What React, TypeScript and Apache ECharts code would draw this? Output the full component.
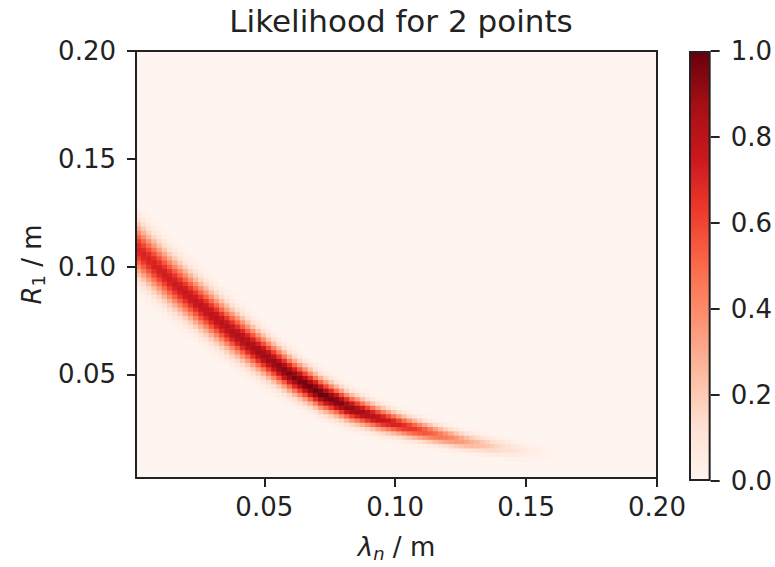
import React, { useEffect, useRef } from 'react';
import * as echarts from 'echarts';

// ---- data ----
const chartTitle = 'Likelihood for 2 points';
const xTickValues = [0.05, 0.1, 0.15, 0.2];
const xTickLabels = ['0.05', '0.10', '0.15', '0.20'];
const yTickValues = [0.05, 0.1, 0.15, 0.2];
const yTickLabels = ['0.05', '0.10', '0.15', '0.20'];
const colorbarTickLabels = ['0.0', '0.2', '0.4', '0.6', '0.8', '1.0'];

// Ridge of the likelihood, read along the band: lambda_n, centre R_1, peak likelihood, vertical spread
const ridgeLambda = [0.0013, 0.0142, 0.0257, 0.0371, 0.0486, 0.06, 0.0715, 0.0829, 0.0944, 0.1058, 0.1173, 0.1287, 0.1402, 0.1517, 0.1631, 0.175];
const ridgeR = [0.1086, 0.0939, 0.082, 0.0706, 0.0601, 0.05, 0.0413, 0.0345, 0.0294, 0.0253, 0.0217, 0.0185, 0.0162, 0.0143, 0.013, 0.012];
const ridgePeak = [0.7, 0.74, 0.78, 0.82, 0.88, 0.95, 1.0, 0.92, 0.8, 0.66, 0.48, 0.3, 0.15, 0.05, 0.012, 0];
const ridgeSpread = [0.0076, 0.0072, 0.0068, 0.0063, 0.0057, 0.0051, 0.0046, 0.004, 0.0035, 0.003, 0.0027, 0.0025, 0.0024, 0.0024, 0.0024, 0.0024];

const xRange = [0.001, 0.2];
const yRange = [0.002, 0.2];
const gridCells = 100;

const REDS = ['#fff5f0', '#fee0d2', '#fcbba1', '#fc9272', '#fb6a4a', '#ef3b2c', '#cb181d', '#a50f15', '#67000d'];

function interp(xs: number[], ys: number[], x: number) {
  const n = xs.length;
  if (x <= xs[0]) return ys[0];
  if (x >= xs[n - 1]) return ys[n - 1];
  let k = 0;
  while (k < n - 2 && x > xs[k + 1]) k++;
  const t = (x - xs[k]) / (xs[k + 1] - xs[k]);
  return ys[k] + t * (ys[k + 1] - ys[k]);
}

function buildCells() {
  const cells: number[][] = [];
  const dx = (xRange[1] - xRange[0]) / gridCells;
  const dy = (yRange[1] - yRange[0]) / gridCells;
  for (let i = 0; i < gridCells; i++) {
    const x0 = xRange[0] + i * dx;
    const cx = x0 + dx / 2;
    const c = interp(ridgeLambda, ridgeR, cx);
    const p = interp(ridgeLambda, ridgePeak, cx);
    const s = interp(ridgeLambda, ridgeSpread, cx);
    for (let j = 0; j < gridCells; j++) {
      const y0 = yRange[0] + j * dy;
      const cy = y0 + dy / 2;
      const v = p * Math.exp(-((cy - c) * (cy - c)) / (2 * s * s));
      if (v > 0.003) cells.push([x0, y0, x0 + dx, y0 + dy, v]);
    }
  }
  return cells;
}

const FONT = 'DejaVu Sans';
const INK = '#222';

export default function App() {
  const ref = useRef<HTMLDivElement>(null);
  useEffect(() => {
    const chart = echarts.init(ref.current!, null, { renderer: 'svg' });
    const cells = buildCells();
    const axisLineStyle = { color: INK, width: 2 };
    const option: any = {
      animation: false,
      backgroundColor: '#fff',
      title: {
        text: chartTitle,
        left: 396,
        top: 0,
        textAlign: 'center',
        textStyle: { fontFamily: FONT, fontSize: 31, fontWeight: 'normal', color: INK },
      },
      grid: [
        { left: 136, top: 51, width: 521, height: 431, show: true, backgroundColor: REDS[0], borderWidth: 0 },
        { left: 689, top: 51, width: 22, height: 430, show: false },
      ],
      visualMap: {
        type: 'continuous',
        show: false,
        min: 0,
        max: 1,
        dimension: 4,
        seriesIndex: 0,
        inRange: { color: REDS },
      },
      xAxis: [
        {
          type: 'value',
          gridIndex: 0,
          min: xRange[0],
          max: xRange[1],
          position: 'bottom',
          z: 10,
          name: '{i|λ}{sub|n}{n| / m}',
          nameLocation: 'middle',
          nameGap: 54,
          nameTextStyle: {
            rich: {
              i: { fontFamily: FONT, fontSize: 26, fontStyle: 'italic', color: INK },
              sub: { fontFamily: FONT, fontSize: 18, fontStyle: 'italic', color: INK, padding: [12, 0, 0, 0] },
              n: { fontFamily: FONT, fontSize: 26, color: INK },
            },
          },
          axisLine: { show: true, onZero: false, lineStyle: axisLineStyle },
          axisTick: { show: true, length: 9, lineStyle: axisLineStyle, customValues: xTickValues },
          axisLabel: {
            fontFamily: FONT,
            fontSize: 26,
            color: INK,
            margin: 16,
            customValues: xTickValues,
            formatter: (v: number) => xTickLabels[xTickValues.findIndex((t) => Math.abs(t - v) < 1e-9)] ?? '',
          },
          splitLine: { show: false },
        },
        {
          type: 'value',
          gridIndex: 0,
          min: xRange[0],
          max: xRange[1],
          position: 'top',
          z: 10,
          axisLine: { show: true, onZero: false, lineStyle: axisLineStyle },
          axisTick: { show: false },
          axisLabel: { show: false },
          splitLine: { show: false },
        },
        {
          type: 'category',
          gridIndex: 1,
          data: ['c'],
          show: false,
        },
      ],
      yAxis: [
        {
          type: 'value',
          gridIndex: 0,
          min: yRange[0],
          max: yRange[1],
          position: 'left',
          z: 10,
          name: '{i|R}{sub|1}{n| / m}',
          nameLocation: 'middle',
          nameRotate: 90,
          nameGap: 88,
          nameTextStyle: {
            rich: {
              i: { fontFamily: FONT, fontSize: 26, fontStyle: 'italic', color: INK },
              sub: { fontFamily: FONT, fontSize: 18, color: INK, padding: [12, 0, 0, 0] },
              n: { fontFamily: FONT, fontSize: 26, color: INK },
            },
          },
          axisLine: { show: true, onZero: false, lineStyle: axisLineStyle },
          axisTick: { show: true, length: 9, lineStyle: axisLineStyle, customValues: yTickValues },
          axisLabel: {
            fontFamily: FONT,
            fontSize: 26,
            color: INK,
            margin: 20,
            customValues: yTickValues,
            formatter: (v: number) => yTickLabels[yTickValues.findIndex((t) => Math.abs(t - v) < 1e-9)] ?? '',
          },
          splitLine: { show: false },
        },
        {
          type: 'value',
          gridIndex: 0,
          min: yRange[0],
          max: yRange[1],
          position: 'right',
          z: 10,
          axisLine: { show: true, onZero: false, lineStyle: axisLineStyle },
          axisTick: { show: false },
          axisLabel: { show: false },
          splitLine: { show: false },
        },
        {
          type: 'value',
          gridIndex: 1,
          min: 0,
          max: 1,
          interval: 0.2,
          position: 'right',
          axisLine: { show: false },
          axisTick: { show: true, length: 9, lineStyle: axisLineStyle },
          axisLabel: {
            fontFamily: FONT,
            fontSize: 26,
            color: INK,
            margin: 20,
            formatter: (v: number) => colorbarTickLabels[Math.round(v * 5)] ?? '',
          },
          splitLine: { show: false },
        },
      ],
      series: [
        {
          type: 'custom',
          xAxisIndex: 0,
          yAxisIndex: 0,
          data: cells,
          encode: { x: [0, 2], y: [1, 3] },
          renderItem: (params: any, api: any) => {
            const a = api.coord([api.value(0), api.value(3)]);
            const b = api.coord([api.value(2), api.value(1)]);
            const cs = params.coordSys;
            const x0 = Math.max(a[0] - 0.3, cs.x);
            const x1 = Math.min(b[0] + 0.3, cs.x + cs.width);
            const y0 = Math.max(a[1] - 0.3, cs.y);
            const y1 = Math.min(b[1] + 0.3, cs.y + cs.height);
            return {
              type: 'rect',
              shape: { x: x0, y: y0, width: Math.max(0, x1 - x0), height: Math.max(0, y1 - y0) },
              style: { fill: api.visual('color') },
            };
          },
        },
        {
          type: 'bar',
          xAxisIndex: 2,
          yAxisIndex: 2,
          data: [1],
          barWidth: '100%',
          silent: true,
          itemStyle: {
            color: new echarts.graphic.LinearGradient(
              0, 1, 0, 0,
              REDS.map((c, k) => ({ offset: k / (REDS.length - 1), color: c }))
            ),
            borderColor: INK,
            borderWidth: 2,
          },
        },
      ],
    };
    chart.setOption(option);
    return () => chart.dispose();
  }, []);
  return (
    <div
      ref={ref}
      style={{ position: 'fixed', left: 0, top: 0, width: 775, height: 567, background: '#fff' }}
    />
  );
}
